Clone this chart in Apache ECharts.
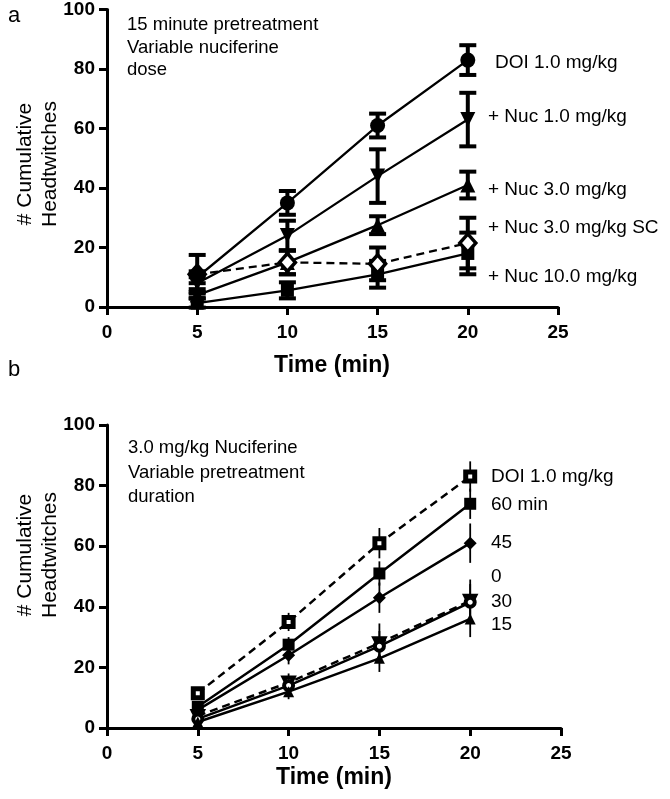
<!DOCTYPE html>
<html>
<head>
<meta charset="utf-8">
<script src="https://cdn.jsdelivr.net/npm/echarts@6/dist/echarts.min.js"></script>
<style>
html,body{margin:0;padding:0;background:#fff;}
#c{width:670px;height:799px;}
</style>
</head>
<body>
<div id="c"></div>
<script>
// ---------- DATA ----------
const times = [5, 10, 15, 20];
const xTicks = [0, 5, 10, 15, 20, 25];
const yTicks = [0, 20, 40, 60, 80, 100];

// Panel a: 15 minute pretreatment, variable nuciferine dose
const a_doi = [10, 35, 61, 83];
const a_doi_err = [2, 4, 4, 5];
const a_nuc1 = [8, 24, 44, 63];
const a_nuc1_err = [2, 5, 9, 9];
const a_nuc3 = [4, 15, 27.5, 41];
const a_nuc3_err = [1, 4, 3, 4.5];
const a_nuc3sc = [11, 15, 14.5, 21.5];
const a_nuc3sc_err = [6.5, 4, 5.5, 8.5];
const a_nuc10 = [1.3, 5.6, 11, 18];
const a_nuc10_err = [1.5, 2.7, 4.5, 7];
const a_labels = ["DOI 1.0 mg/kg", "+ Nuc 1.0 mg/kg", "+ Nuc 3.0 mg/kg", "+ Nuc 3.0 mg/kg SC", "+ Nuc 10.0 mg/kg"];
const a_note = ["15 minute pretreatment", "Variable nuciferine", "dose"];

// Panel b: 3.0 mg/kg nuciferine, variable pretreatment duration
const b_doi = [11.5, 35, 61, 83];
const b_doi_err = [1.5, 3, 5, 5];
const b_60 = [7, 27.5, 51, 74];
const b_60_err = [1.5, 2.5, 4, 5];
const b_45 = [6, 24, 43, 61];
const b_45_err = [1.5, 3, 5, 6.5];
const b_0 = [4, 15, 28, 42];
const b_0_err = [1.5, 3, 6.5, 7];
const b_30 = [3, 14, 27, 41.5];
const b_30_err = [1.5, 3, 5, 6];
const b_15 = [2, 12, 23, 36];
const b_15_err = [1.5, 2.5, 4.5, 6];
const b_labels = ["DOI 1.0 mg/kg", "60 min", "45", "0", "30", "15"];
const b_note = ["3.0 mg/kg Nuciferine", "Variable pretreatment", "duration"];

const xTitle = "Time (min)";
const yTitle = ["# Cumulative", "Headtwitches"];

// ---------- BUILD ----------
const FONT = "'Liberation Sans', Arial, sans-serif";
const pts = (ys) => times.map((t, i) => [t, ys[i]]);
const errPts = (ys, es) => times.map((t, i) => [t, ys[i], es[i]]);

function axisX(gi) {
  return {
    type: 'value', gridIndex: gi, min: xTicks[0], max: xTicks[xTicks.length - 1], interval: 5,
    axisLine: { show: true, onZero: false, lineStyle: { color: '#000', width: 3 } },
    axisTick: { show: true, length: 8, lineStyle: { color: '#000', width: 3 } },
    axisLabel: { color: '#000', fontFamily: FONT, fontWeight: 'bold', fontSize: 19, margin: 16 },
    splitLine: { show: false }
  };
}
function axisY(gi) {
  return {
    type: 'value', gridIndex: gi, min: yTicks[0], max: yTicks[yTicks.length - 1], interval: 20,
    axisLine: { show: true, onZero: false, lineStyle: { color: '#000', width: 3 } },
    axisTick: { show: true, length: 8, lineStyle: { color: '#000', width: 3 } },
    axisLabel: { color: '#000', fontFamily: FONT, fontWeight: 'bold', fontSize: 19, margin: 12 },
    splitLine: { show: false }
  };
}

function errSeries(gi, ys, es, capW, lw, capLw) {
  return {
    type: 'custom', xAxisIndex: gi, yAxisIndex: gi, z: 2, clip: false,
    data: errPts(ys, es),
    encode: { x: 0, y: 1 },
    renderItem: function (params, api) {
      const x = api.value(0), y = api.value(1), e = api.value(2);
      const t = api.coord([x, y + e]);
      const b = api.coord([x, y - e]);
      const children = [{
        type: 'line', shape: { x1: t[0], y1: t[1], x2: b[0], y2: b[1] },
        style: { stroke: '#000', lineWidth: lw }
      }];
      if (capW > 0) {
        children.push({ type: 'line', shape: { x1: t[0] - capW / 2, y1: t[1], x2: t[0] + capW / 2, y2: t[1] }, style: { stroke: '#000', lineWidth: capLw } });
        children.push({ type: 'line', shape: { x1: b[0] - capW / 2, y1: b[1], x2: b[0] + capW / 2, y2: b[1] }, style: { stroke: '#000', lineWidth: capLw } });
      }
      return { type: 'group', children: children };
    }
  };
}

function lineSeries(gi, name, ys, opt) {
  const data = pts(ys).map((p, i) => {
    const d = { value: p };
    if (opt.filledIdx && opt.filledIdx.indexOf(i) >= 0) d.itemStyle = { color: '#000' };
    return d;
  });
  return {
    type: 'line', name: name, xAxisIndex: gi, yAxisIndex: gi, z: 3,
    data: data,
    symbol: opt.symbol, symbolSize: opt.size, symbolRotate: opt.rotate || 0,
    showAllSymbol: true, animation: false,
    lineStyle: { color: '#000', width: opt.lw, type: opt.dash ? [8, 5] : 'solid' },
    itemStyle: { color: opt.open ? '#fff' : '#000', borderColor: '#000', borderWidth: opt.open ? opt.bw || 2.5 : 0, opacity: 1 },
    emphasis: { disabled: true }
  };
}

const series = [];
// panel a
const aSets = [
  [a_doi, a_doi_err, { symbol: 'circle', size: 15, lw: 2.3 }],
  [a_nuc1, a_nuc1_err, { symbol: 'triangle', rotate: 180, size: 15, lw: 2.3 }],
  [a_nuc3, a_nuc3_err, { symbol: 'triangle', size: 15, lw: 2.3 }],
  [a_nuc10, a_nuc10_err, { symbol: 'rect', size: 13, lw: 2.3 }],
  [a_nuc3sc, a_nuc3sc_err, { symbol: 'diamond', size: [16, 18], lw: 2.3, dash: true, open: true, bw: 3.5, filledIdx: [0] }]
];
aSets.forEach((s) => {
  series.push(errSeries(0, s[0], s[1], 17, 4, 4));
});
aSets.forEach((s, i) => {
  series.push(lineSeries(0, 'a' + i, s[0], s[2]));
});
// panel b
const bSets = [
  [b_doi, b_doi_err, { symbol: 'rect', size: 9, lw: 2.5, dash: true, open: true, bw: 5 }],
  [b_60, b_60_err, { symbol: 'rect', size: 12, lw: 2.5 }],
  [b_45, b_45_err, { symbol: 'diamond', size: 13, lw: 2.5 }],
  [b_0, b_0_err, { symbol: 'triangle', rotate: 180, size: 10, lw: 2.5, dash: true, open: true, bw: 4 }],
  [b_30, b_30_err, { symbol: 'circle', size: 9, lw: 2.5, open: true, bw: 4 }],
  [b_15, b_15_err, { symbol: 'triangle', size: 11, lw: 2.5 }]
];
bSets.forEach((s) => {
  series.push(errSeries(1, s[0], s[1], 0, 1.8, 0));
});
bSets.forEach((s, i) => {
  series.push(lineSeries(1, 'b' + i, s[0], s[2]));
});

// text elements
const graphic = [];
function txt(text, x, y, size, opts) {
  opts = opts || {};
  graphic.push({
    type: 'text', x: x, y: y, rotation: opts.rot || 0, silent: true,
    style: {
      text: text, fill: '#000',
      font: (opts.bold ? 'bold ' : '') + size + 'px ' + FONT,
      textAlign: opts.align || 'left', textVerticalAlign: 'middle'
    }
  });
}
txt('a', 8, 16, 22);
txt('b', 8, 370, 22);
a_note.forEach((t, i) => txt(t, 127, 25 + i * 22.5, 18.5));
b_note.forEach((t, i) => txt(t, 128, 448 + i * 24.5, 18.5));
const aLabY = [63, 117, 190, 228, 277];
const aLabX = [495, 488, 488, 488, 488];
a_labels.forEach((t, i) => txt(t, aLabX[i], aLabY[i], 19));
const bLabY = [477, 505, 543, 577, 602, 625];
b_labels.forEach((t, i) => txt(t, 491, bLabY[i], 19));
// axis titles
txt(xTitle, 332, 366, 23, { bold: true, align: 'center' });
txt(xTitle, 334, 778, 23, { bold: true, align: 'center' });
txt(yTitle[0], 25, 164, 21, { rot: Math.PI / 2, align: 'center' });
txt(yTitle[1], 50, 164, 21, { rot: Math.PI / 2, align: 'center' });
txt(yTitle[0], 25, 555, 21, { rot: Math.PI / 2, align: 'center' });
txt(yTitle[1], 50, 555, 21, { rot: Math.PI / 2, align: 'center' });

const chart = echarts.init(document.getElementById('c'), null, { renderer: 'canvas' });
chart.setOption({
  backgroundColor: '#fff',
  animation: false,
  grid: [
    { left: 107, top: 7, width: 451, height: 300 },
    { left: 107, top: 425, width: 454, height: 303 }
  ],
  xAxis: [axisX(0), axisX(1)],
  yAxis: [axisY(0), axisY(1)],
  series: series,
  graphic: graphic
});
</script>
</body>
</html>
